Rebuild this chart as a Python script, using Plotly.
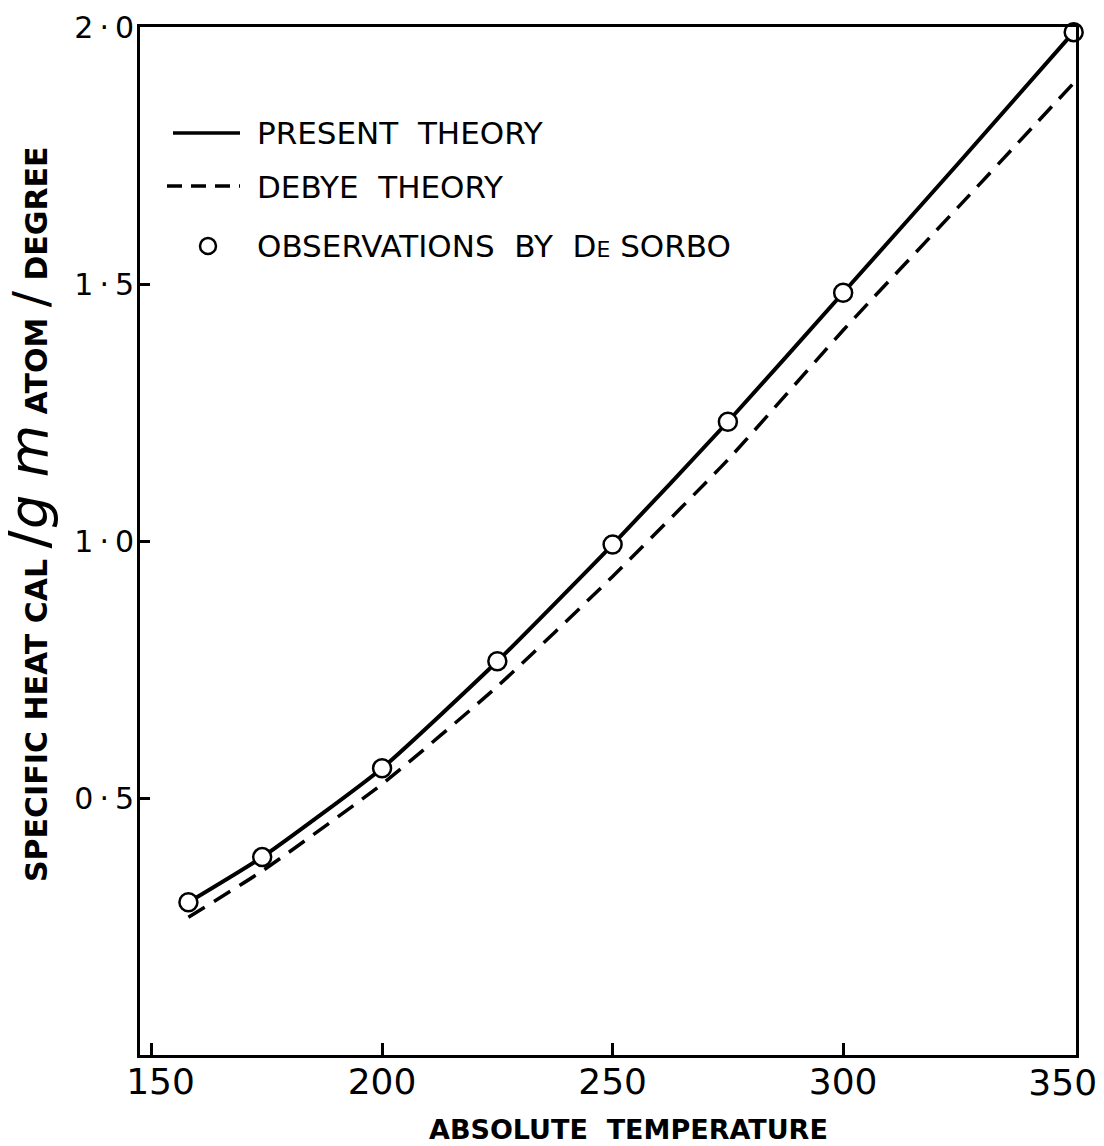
import plotly.graph_objects as go

# ---- data ----
obs_T = [158, 174, 200, 225, 250, 275, 300, 350]
obs_C = [0.297, 0.385, 0.558, 0.766, 0.993, 1.232, 1.483, 1.990]

present_T = [158, 174, 200, 225, 250, 275, 300, 325, 350]
present_C = [0.297, 0.385, 0.558, 0.766, 0.993, 1.232, 1.483, 1.735, 1.990]

debye_T = [158, 174, 200, 225, 250, 275, 300, 325, 350]
debye_C = [0.268, 0.358, 0.527, 0.717, 0.931, 1.158, 1.410, 1.650, 1.891]

x_ticks = [150, 200, 250, 300]
x_ticktext = ["\u200b\u2002150", "200", "250", "300"]
x_last_tick = [350]
x_last_text = ["350"]
y_ticks = [0.5, 1.0, 1.5, 2.0]
y_ticktext = ["0\u2009·\u20095", "1\u2009·\u20090", "1\u2009·\u20095", "2\u2009·\u20090"]

legend_labels = [
    "PRESENT  THEORY",
    "DEBYE  THEORY",
    "OBSERVATIONS  BY  D<span style='font-size:22px'>E</span> SORBO",
]

FONT = "DejaVu Sans"
OFF = 8  # page body margin
W, H = 1096, 1138
ML, MR, MT, MB = 132, 28, 19, 91
PW, PH = W - ML - MR, H - MT - MB
X_RANGE = [147.5, 350.5]


def px(x):
    return (x - OFF - ML) / PW


def py(y):
    return (H - MB - (y - OFF)) / PH


fig = go.Figure()
fig.add_trace(go.Scatter(x=debye_T, y=debye_C, mode="lines",
                         line=dict(color="black", width=3.5, dash="19px,11px", shape="spline", smoothing=0.5),
                         showlegend=False, hoverinfo="skip"))
fig.add_trace(go.Scatter(x=present_T, y=present_C, mode="lines",
                         line=dict(color="black", width=4, shape="spline", smoothing=0.5),
                         showlegend=False, hoverinfo="skip"))
# observations drawn on the overlaid x2 axis (same scale, matches x)
fig.add_trace(go.Scatter(x=obs_T, y=obs_C, mode="markers", xaxis="x2", yaxis="y",
                         marker=dict(symbol="circle", size=18, color="white",
                                     line=dict(color="black", width=2.5)),
                         cliponaxis=False, showlegend=False))

# manual legend
fig.add_shape(type="line", xref="paper", yref="paper", x0=px(173), x1=px(240), y0=py(133), y1=py(133),
              line=dict(color="black", width=3.5))
fig.add_shape(type="line", xref="paper", yref="paper", x0=px(167), x1=px(240), y0=py(186), y1=py(186),
              line=dict(color="black", width=3.5, dash="15px,9px"))
fig.add_shape(type="circle", xref="paper", yref="paper", x0=px(200), x1=px(216), y0=py(254), y1=py(238),
              line=dict(color="black", width=2.5), fillcolor="white")
for lab, yy in zip(legend_labels, [133, 187, 246]):
    fig.add_annotation(text=lab, xref="paper", yref="paper", x=px(255), y=py(yy),
                       xanchor="left", yanchor="middle", showarrow=False,
                       font=dict(family=FONT, size=31, color="black"))

# axis titles
fig.add_annotation(
    text="<b>SPECIFIC HEAT CAL </b><span style='font-size:58px'>/</span>"
         "<span style='font-size:54px'><i>g m</i></span>"
         "<b> ATOM </b><span style='font-size:48px'>/</span><b> DEGREE</b>",
    xref="paper", yref="paper", x=0, y=py(514), xshift=-113, textangle=-90,
    xanchor="center", yanchor="middle", showarrow=False,
    font=dict(family=FONT, size=30, color="black"))
fig.add_annotation(text="<b>ABSOLUTE  TEMPERATURE</b>", xref="paper", yref="paper",
                   x=px(628), y=py(1129), xanchor="center", yanchor="middle", showarrow=False,
                   font=dict(family=FONT, size=27, color="black"))

fig.update_layout(
    xaxis=dict(range=X_RANGE, tickvals=x_ticks, ticktext=x_ticktext,
               ticks="inside", ticklen=12, tickwidth=2.5, tickcolor="black",
               showline=True, linecolor="black", linewidth=3, mirror=True,
               showgrid=False, zeroline=False, ticklabelstandoff=-7,
               ticklabeloverflow="allow", automargin=False,
               tickfont=dict(family=FONT, size=36, color="black")),
    xaxis2=dict(range=X_RANGE, matches="x", overlaying="x", side="bottom",
                tickvals=x_last_tick, ticktext=x_last_text, ticks="",
                showline=False, showgrid=False, zeroline=False,
                ticklabelstandoff=3, ticklabelshift=-11,
                ticklabeloverflow="allow", automargin=False,
                tickfont=dict(family=FONT, size=36, color="black")),
    yaxis=dict(range=[0, 2.0], tickvals=y_ticks, ticktext=y_ticktext,
               ticks="inside", ticklen=10, tickwidth=2.5, tickcolor="black",
               showline=True, linecolor="black", linewidth=3, mirror=True,
               showgrid=False, zeroline=False, ticklabelstandoff=-3,
               ticklabeloverflow="allow", automargin=False,
               tickfont=dict(family=FONT, size=30, color="black")),
    width=W, height=H, margin=dict(l=ML, r=MR, t=MT, b=MB, autoexpand=False),
    paper_bgcolor="white", plot_bgcolor="white", showlegend=False)

fig.write_html("out.html")
